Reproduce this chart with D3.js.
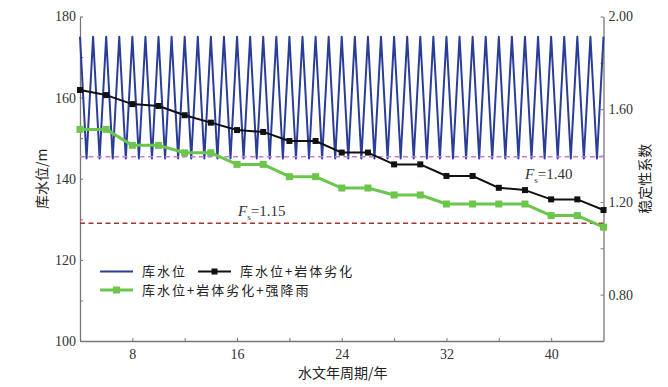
<!DOCTYPE html>
<html>
<head>
<meta charset="utf-8">
<script src="https://cdn.jsdelivr.net/npm/d3@7"></script>
<style>
  body { margin: 0; background: #fff; }
  .tick text { font-family: "Liberation Serif", "Times New Roman", serif; font-size: 14px; fill: #333; }
  .cn { font-family: "Noto Sans CJK SC", sans-serif; fill: #222; }
</style>
</head>
<body>
<div id="chart"></div>
<script>
// years and water level (left axis, one point every half year)
var levelYears = d3.range(4, 44.01, 0.5);
var levelValues = [175,145,175,145,175,145,175,145,175,145,175,145,175,145,175,145,175,145,175,145,
                   175,145,175,145,175,145,175,145,175,145,175,145,175,145,175,145,175,145,175,145,
                   175,145,175,145,175,145,175,145,175,145,175,145,175,145,175,145,175,145,175,145,
                   175,145,175,145,175,145,175,145,175,145,175,145,175,145,175,145,175,145,175,145,175];

// stability coefficient series (right axis), every 2 years
var fsYears = [4,6,8,10,12,14,16,18,20,22,24,26,28,30,32,34,36,38,40,42,44];
var fsRock = [1.683,1.661,1.622,1.614,1.574,1.542,1.510,1.502,1.463,1.463,1.413,1.413,1.362,1.362,1.312,1.312,1.261,1.251,1.211,1.211,1.165];
var fsRain = [1.513,1.513,1.444,1.444,1.412,1.412,1.362,1.362,1.309,1.309,1.260,1.260,1.230,1.230,1.191,1.191,1.191,1.191,1.141,1.141,1.091];

// threshold lines
var limitValues = [1.395, 1.108];
var limitLabels = ["=1.40", "=1.15"];
var limitColors = ["#c77bd6", "#a8322d"];

var xTicks = [8, 16, 24, 32, 40];
var leftTicks = [100, 120, 140, 160, 180];
var rightTicks = [0.80, 1.20, 1.60, 2.00];

var legendNames = ["库水位", "库水位+岩体劣化", "库水位+岩体劣化+强降雨"];

var W = 668, H = 387;
var margin = {top: 16.5, right: 64.5, bottom: 46, left: 80},
    width = W - margin.left - margin.right,
    height = H - margin.top - margin.bottom;

var svg = d3.select("#chart")
  .append("svg")
    .attr("width", W)
    .attr("height", H)
  .append("g")
    .attr("transform", "translate(" + margin.left + "," + margin.top + ")");

var x = d3.scaleLinear().domain([4, 44]).range([0, width]);
var yL = d3.scaleLinear().domain([100, 180]).range([height, 0]);
var yR = d3.scaleLinear().domain([0.6, 2.0]).range([height, 0]);

// axes
function styleAxis(g) {
  g.selectAll("path.domain").attr("stroke", "#777").attr("stroke-width", 1.3);
  g.selectAll(".tick line").attr("stroke", "#777");
}

var xAxis = svg.append("g")
  .attr("transform", "translate(0," + height + ")")
  .call(d3.axisBottom(x).tickValues(d3.range(8, 44, 4)).tickSizeInner(-3).tickSizeOuter(0)
    .tickFormat(function(d) { return xTicks.indexOf(d) >= 0 ? d : ""; }))
  .call(styleAxis);
xAxis.selectAll(".tick text").attr("dy", "1.1em");

var lAxis = svg.append("g")
  .call(d3.axisLeft(yL).tickValues(d3.range(100, 181, 10)).tickSizeInner(-3).tickSizeOuter(0)
    .tickFormat(function(d) { return leftTicks.indexOf(d) >= 0 ? d : ""; }))
  .call(styleAxis);
lAxis.selectAll(".tick text").attr("x", -4);

var rAxis = svg.append("g")
  .attr("transform", "translate(" + width + ",0)")
  .call(d3.axisRight(yR).tickValues([0.8, 1.0, 1.2, 1.4, 1.6, 1.8, 2.0]).tickSizeInner(-3).tickSizeOuter(0)
    .tickFormat(function(d) { return rightTicks.indexOf(d) >= 0 ? d3.format(".2f")(d) : ""; }))
  .call(styleAxis);
rAxis.selectAll(".tick text").attr("x", 5);

// axis titles
svg.append("text")
  .attr("class", "cn")
  .attr("x", width / 2 + 1)
  .attr("y", height + 37)
  .attr("text-anchor", "middle")
  .style("font-size", "14px")
  .text("水文年周期/年");

svg.append("text")
  .attr("class", "cn")
  .attr("transform", "translate(" + (-38) + "," + (height / 2) + ") rotate(-90)")
  .attr("text-anchor", "middle")
  .attr("dy", "0.35em")
  .style("font-size", "14px")
  .text("库水位/m");

svg.append("text")
  .attr("class", "cn")
  .attr("transform", "translate(" + (width + 42) + "," + (height / 2) + ") rotate(-90)")
  .attr("text-anchor", "middle")
  .attr("dy", "0.35em")
  .style("font-size", "14px")
  .text("稳定性系数");

// water level wave
var levelLine = d3.line()
  .x(function(d, i) { return x(levelYears[i]); })
  .y(function(d) { return yL(d); });

svg.append("path")
  .datum(levelValues)
  .attr("fill", "none")
  .attr("stroke", "#2a3d99")
  .attr("stroke-width", 2)
  .attr("stroke-linejoin", "round")
  .attr("d", levelLine);

// dashed limit lines
svg.selectAll("line.limit")
  .data(limitValues)
  .enter()
  .append("line")
    .attr("class", "limit")
    .attr("x1", 0)
    .attr("x2", width)
    .attr("y1", function(d) { return yR(d); })
    .attr("y2", function(d) { return yR(d); })
    .attr("stroke", function(d, i) { return limitColors[i]; })
    .attr("stroke-width", 1.4)
    .attr("stroke-dasharray", "5,3.5");

// limit labels
var labelPos = [[445, 162], [158, 199]];
limitLabels.forEach(function(t, i) {
  var lab = svg.append("text")
    .attr("x", labelPos[i][0])
    .attr("y", labelPos[i][1])
    .style("font-family", "Liberation Serif, serif")
    .style("font-size", "15px")
    .style("fill", "#333");
  lab.append("tspan").style("font-style", "italic").text("F");
  lab.append("tspan").attr("dy", 4).style("font-size", "9px").text("s");
  lab.append("tspan").attr("dy", -4).text(t);
});

// stability series
var fsLine = d3.line()
  .x(function(d, i) { return x(fsYears[i]); })
  .y(function(d) { return yR(d); });

var series = [
  {values: fsRock, color: "#111", width: 2, size: 6},
  {values: fsRain, color: "#6cc64c", width: 3, size: 7}
];

series.forEach(function(s) {
  svg.append("path")
    .datum(s.values)
    .attr("fill", "none")
    .attr("stroke", s.color)
    .attr("stroke-width", s.width)
    .attr("stroke-linejoin", "round")
    .attr("d", fsLine);

  svg.selectAll(null)
    .data(s.values)
    .enter()
    .append("rect")
      .attr("x", function(d, i) { return x(fsYears[i]) - s.size / 2; })
      .attr("y", function(d) { return yR(d) - s.size / 2; })
      .attr("width", s.size)
      .attr("height", s.size)
      .attr("fill", s.color);
});

// legend
var legend = svg.append("g").attr("transform", "translate(20,255)");
var legendItems = [
  {x: 0, y: 0, color: "#2a3d99", w: 2, mark: 0},
  {x: 98, y: 0, color: "#111", w: 2, mark: 6},
  {x: 0, y: 18.5, color: "#6cc64c", w: 3, mark: 7}
];
legendItems.forEach(function(it, i) {
  var g = legend.append("g").attr("transform", "translate(" + it.x + "," + it.y + ")");
  g.append("line")
    .attr("x1", 0).attr("x2", 33)
    .attr("y1", 0).attr("y2", 0)
    .attr("stroke", it.color)
    .attr("stroke-width", it.w);
  if (it.mark) {
    g.append("rect")
      .attr("x", 16.5 - it.mark / 2)
      .attr("y", -it.mark / 2)
      .attr("width", it.mark)
      .attr("height", it.mark)
      .attr("fill", it.color);
  }
  g.append("text")
    .attr("class", "cn")
    .attr("x", 42)
    .attr("dy", "0.36em")
    .style("font-size", "13px")
    .style("letter-spacing", "2px")
    .text(legendNames[i]);
});
</script>
</body>
</html>
